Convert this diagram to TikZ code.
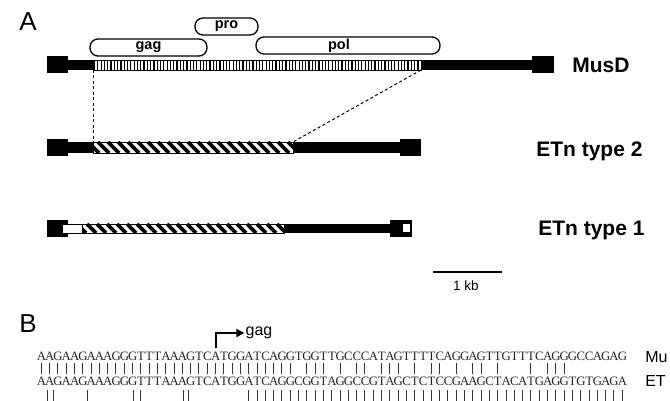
\documentclass[tikz,border=0pt]{standalone}
\usepackage{fontspec}
\setmainfont{Liberation Serif}
\setsansfont{Liberation Sans}
\usepackage{tikz}
\usetikzlibrary{arrows,arrows.meta,positioning,calc}

% one fixed cell per base, so the match bars line up
\def\seqcell#1{\ifx#1\relax\else\makebox[8.3pt]{#1}\expandafter\seqcell\fi}

\begin{document}
\begin{tikzpicture}[x=1pt, y=-1pt, >=stealth', semithick]
\tikzstyle{orf}=[draw=black, line width=1.3pt, rounded corners=8pt, minimum height=17pt, inner sep=0pt, font=\sffamily\bfseries\fontsize{14.5}{14.5}\selectfont]
\tikzstyle{elname}=[anchor=west, inner sep=0pt, font=\sffamily\bfseries\fontsize{21}{21}\selectfont]
\tikzstyle{panel}=[inner sep=0pt, font=\sffamily\fontsize{26}{26}\selectfont]
\tikzstyle{seq}=[anchor=west, inner sep=0pt, text=black!85, font=\fontsize{12.8}{12.8}\selectfont]
\tikzstyle{bar}=[line width=0.8pt, black!80]
\tikzstyle{link}=[line width=1pt, dash pattern=on 3pt off 2.5pt]
\clip (0,0) rectangle (670,401);
\useasboundingbox (0,0) rectangle (670,401);

% A
\node[panel] (A) at (28,22) {A};
\node[orf, minimum width=117pt] (gag) at (148.5,47.5) {gag};
\node[orf, minimum width=63pt]  (pro) at (226.5,26.5) {pro};
\node[orf, minimum width=184pt] (pol) at (348,45.5)   {\hspace{-18pt}pol};

% MusD
\fill (47,56) rectangle (68,73);
\fill (68,60) rectangle (93,70);
\begin{scope}
\clip (93,60) rectangle (421,70);
\foreach \x in {94.5,97.8,...,421} \draw[line width=1.2pt] (\x,60) -- (\x,70);
\end{scope}
\draw[line width=0.8pt] (93,60) rectangle (421,70);
\fill (421,60) rectangle (532,70);
\fill (532,56) rectangle (554,73);
\node[elname] (musd) at (572,65) {MusD};

% ETn type 2
\fill (47,139) rectangle (68,156);
\fill (68,142) rectangle (93,153);
\begin{scope}
\clip (93,142) rectangle (293,153);
\foreach \x in {78,88,...,293} \draw[line width=3.6pt] (\x,142) -- ++(11,11);
\end{scope}
\draw[line width=0.8pt] (93,142) rectangle (293,153);
\fill (293,142) rectangle (400,153);
\fill (400,139) rectangle (421,156);
\node[elname] (etn2) at (536,151) {ETn type 2};

\coordinate (musL) at (93,70);
\coordinate (musR) at (421,70);
\coordinate (etnL) at (93,142);
\coordinate (etnR) at (293,142);
\draw[link] (musL) -- (etnL);
\draw[link] (musR) -- (etnR);

% ETn type 1
\fill (47,220) rectangle (68,237);
\draw[line width=0.8pt, fill=white] (62,224) rectangle (82,233);
\begin{scope}
\clip (82,224) rectangle (284,233);
\foreach \x in {67,77,...,284} \draw[line width=3.6pt] (\x,224) -- ++(9,9);
\end{scope}
\draw[line width=0.8pt] (82,224) rectangle (284,233);
\fill (284,224) rectangle (390,233);
\fill (390,220) rectangle (412,237);
\fill[white] (403,224.5) rectangle (410,232.5);
\node[elname] (etn1) at (538,230) {ETn type 1};

% scale
\coordinate (sbL) at (433,272);
\coordinate (sbR) at (502,272);
\draw[line width=1.8pt] (sbL) -- (sbR);
\node[font=\sffamily\fontsize{13.5}{13.5}\selectfont] (kb) at (466,286) {1 kb};

% B
\node[panel] (B) at (28,324) {B};
\coordinate (tss) at (216,348);
\node[inner sep=1pt, font=\sffamily\fontsize{16}{16}\selectfont] (gagB) at (259,333) {gag};
\draw[-{Triangle[length=8pt,width=8pt]}, line width=2.2pt] (tss) |- (gagB.west);

\node[seq] (s1) at (37,356) {\seqcell AAGAAGAAAGGGTTTAAAGTCATGGATCAGGTGGTTGCCCATAGTTTTCAGGAGTTGTTTCAGGGCCAGAG\relax};
\node[seq] (s2) at (37,381) {\seqcell AAGAAGAAAGGGTTTAAAGTCATGGATCAGGCGGTAGGCCGTAGCTCTCCGAAGCTACATGAGGTGTGAGA\relax};
\node[anchor=west, inner sep=0pt, font=\sffamily\fontsize{16}{16}\selectfont] (mu) at (645,357) {Mu};
\node[anchor=west, inner sep=0pt, font=\sffamily\fontsize{16}{16}\selectfont] (et) at (645,381) {ET};

\foreach \i in {1,...,31} \draw[bar] ({37+8.3*(\i-0.5)},363) -- ++(0,11);
\foreach \i in {33,34,35,37,39,40,42,43,44,46,48,49,51,53,54,56,60,62,63,64} \draw[bar] ({37+8.3*(\i-0.5)},363) -- ++(0,11);
\foreach \x in {47,53,87,133,140,183,188} \draw[bar] (\x,390) -- ++(0,14);
\foreach \i in {26,...,71} \draw[bar] ({37+8.3*(\i-0.5)},390) -- ++(0,14);
\end{tikzpicture}
\end{document}
